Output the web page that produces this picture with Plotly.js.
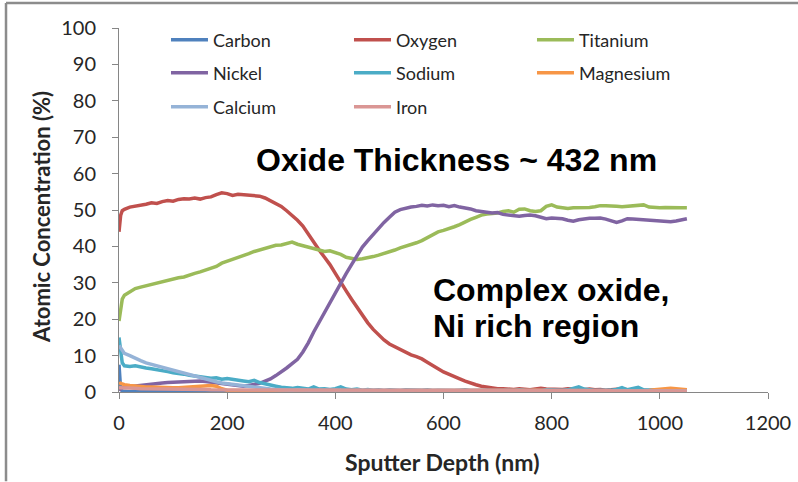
<!DOCTYPE html>
<html>
<head>
<meta charset="utf-8">
<script src="https://cdn.plot.ly/plotly-3.0.1.min.js"></script>
<style>
  html, body { margin: 0; padding: 0; background: #ffffff; }
  #chart { width: 798px; height: 482px; }
</style>
</head>
<body>
<div id="chart"></div>
<script>
// Depth profile: sputter depth (nm)
const depth = [
  0, 3, 6,
  10, 20, 30, 40, 50, 60, 70, 80, 90, 100,
  110, 120, 130, 140, 150, 160, 170, 180, 190, 200,
  210, 220, 230, 240, 250, 260, 270, 280, 290, 300,
  310, 320, 330, 340, 350, 360, 370, 380, 390, 400,
  410, 420, 430, 440, 450, 460, 470, 480, 490, 500,
  510, 520, 530, 540, 550, 560, 570, 580, 590, 600,
  610, 620, 630, 640, 650, 660, 670, 680, 690, 700,
  710, 720, 730, 740, 750, 760, 770, 780, 790, 800,
  810, 820, 830, 840, 850, 860, 870, 880, 890, 900,
  910, 920, 930, 940, 950, 960, 970, 980, 990, 1000,
  1010, 1020, 1030, 1040, 1050
];

// Atomic concentration (%) of each element at each depth
const carbon = [
  7.5, 0.8, 0.3,
  0.2, 0.1, 0.2, 0.1, 0.2, 0.1, 0.2, 0.1, 0.2, 0.1,
  0.2, 0.1, 0.2, 0.1, 0.2, 0.1, 0.2, 0.1, 0.1, 0.1,
  0.1, 0.1, 0.1, 0.1, 0.1, 0.1, 0.1, 0.1, 0.1, 0.1,
  0.1, 0.1, 0.1, 0.1, 0.1, 0.1, 0.1, 0.1, 0.1, 0.1,
  0.1, 0.1, 0.1, 0.1, 0.1, 0.1, 0.1, 0.1, 0.1, 0.1,
  0.1, 0.1, 0.1, 0.1, 0.1, 0.1, 0.1, 0.1, 0.1, 0.1,
  0.1, 0.1, 0.1, 0.1, 0.1, 0.1, 0.1, 0.1, 0.1, 0.1,
  0.1, 0.1, 0.1, 0.1, 0.1, 0.1, 0.1, 0.1, 0.1, 0.1,
  0.1, 0.1, 0.1, 0.1, 0.1, 0.1, 0.1, 0.1, 0.1, 0.1,
  0.1, 0.1, 0.1, 0.1, 0.1, 0.1, 0.1, 0.1, 0.1, 0.1,
  0.1, 0.1, 0.1, 0.1, 0.1
];
const oxygen = [
  44.0, 48.5, 49.8,
  50.2, 50.8, 51.0, 51.3, 51.6, 52.0, 51.8, 52.3, 52.6, 52.4,
  52.9, 53.1, 53.0, 53.3, 53.0, 53.4, 53.6, 54.2, 54.7, 54.5,
  54.0, 54.3, 54.2, 53.9, 54.0, 53.8, 53.3, 52.6, 51.8, 51.0,
  49.8, 48.6, 47.2, 45.6, 43.3, 41.0, 39.0, 37.0, 35.0, 32.6,
  30.0, 27.8, 25.5, 23.3, 21.2, 19.0, 17.2, 15.6, 14.3, 13.2,
  12.4, 11.8, 11.0, 10.2, 9.7, 9.1, 8.2, 7.2, 6.4, 5.5,
  4.8, 4.2, 3.6, 3.0, 2.4, 2.0, 1.6, 1.3, 1.1, 0.9,
  0.9, 0.8, 0.7, 0.9, 0.7, 0.6, 0.8, 1.0, 0.8, 0.7,
  0.6, 0.7, 0.9, 0.8, 0.7, 0.6, 0.8, 0.6, 0.7, 0.5,
  0.6, 0.8, 0.9, 0.6, 0.5, 0.6, 0.5, 0.4, 0.5, 0.4,
  0.5, 0.4, 0.5, 0.4, 0.4
];
const titanium = [
  19.5, 23.5, 25.5,
  26.6, 27.6, 28.4, 28.8, 29.2, 29.4, 30.0, 30.2, 30.6, 31.0,
  31.4, 31.6, 32.2, 32.6, 33.0, 33.5, 34.0, 34.5, 35.4, 35.9,
  36.4, 36.8, 37.4, 38.0, 38.6, 39.0, 39.6, 40.0, 40.3, 40.4,
  40.9, 41.2, 40.6, 40.2, 39.8, 39.2, 38.8, 38.6, 38.8, 38.4,
  37.8, 37.0, 36.6, 36.4, 36.6, 36.8, 37.2, 37.6, 38.0, 38.4,
  39.0, 39.6, 40.0, 40.6, 41.0, 41.6, 42.4, 43.2, 44.0, 44.4,
  44.8, 45.4, 46.0, 46.8, 47.4, 48.0, 48.6, 48.9, 49.0, 49.2,
  49.6, 49.8, 49.4, 50.2, 50.3, 49.8, 49.6, 49.8, 51.0, 51.4,
  50.8, 50.6, 50.4, 50.6, 50.6, 50.8, 50.7, 50.9, 51.2, 51.2,
  51.0, 51.0, 50.9, 51.0, 51.1, 51.4, 51.4, 50.8, 50.6, 50.6,
  50.7, 50.6, 50.6, 50.6, 50.6
];
const nickel = [
  0.5, 1.0, 1.2,
  1.3, 1.5, 1.7, 1.8, 2.0, 2.1, 2.3, 2.5, 2.6, 2.7,
  2.8, 2.9, 2.8, 3.1, 3.0, 2.9, 2.7, 2.5, 2.3, 2.0,
  1.8, 1.7, 1.6, 1.8, 2.1, 2.4, 3.0, 3.6, 4.5, 5.5,
  6.6, 7.8, 9.0, 11.0, 13.5, 16.5, 19.2, 22.0, 24.8, 27.5,
  29.8, 32.5, 35.0, 37.5, 39.8, 41.6, 43.3, 45.0, 46.6, 48.0,
  49.4, 50.1, 50.5, 50.8, 51.0, 51.3, 51.1, 51.4, 51.2, 51.3,
  50.9, 51.2, 50.8, 50.6, 50.3, 49.8, 49.5, 49.4, 49.2, 49.3,
  48.8, 48.7, 48.6, 48.3, 48.5, 48.6, 48.4, 48.1, 47.6, 47.8,
  47.8, 47.6, 47.2, 46.9, 47.3, 47.6, 47.7, 47.7, 47.8, 47.5,
  47.0, 46.6, 47.0, 47.6, 47.5, 47.4, 47.2, 47.3, 47.1, 46.9,
  46.8, 46.8, 47.0, 47.4, 47.6
];
const sodium = [
  15.0, 11.0, 8.0,
  7.2, 7.0, 7.2, 6.8, 6.6, 6.4, 6.2, 5.8, 5.6, 5.3,
  5.2, 4.9, 4.6, 4.4, 4.3, 4.0, 3.8, 3.9, 3.5, 3.7,
  3.4, 3.3, 3.0, 2.8, 3.2, 2.6, 2.2, 2.0, 1.6, 1.3,
  1.1, 1.0, 1.2, 0.9, 0.8, 1.4, 0.8, 0.9, 0.7, 0.9,
  1.4, 0.8, 0.6, 0.8, 0.5, 0.7, 0.5, 0.6, 0.4, 0.6,
  0.5, 0.4, 0.6, 0.5, 0.4, 0.5, 0.6, 0.4, 0.5, 0.4,
  0.5, 0.4, 0.5, 0.6, 0.4, 0.5, 0.4, 0.5, 0.4, 0.5,
  0.4, 0.5, 0.4, 0.6, 0.5, 0.4, 0.5, 0.4, 0.6, 0.5,
  0.4, 0.5, 0.6, 0.9, 1.4, 0.8, 0.5, 0.4, 0.5, 0.4,
  0.5, 0.7, 1.2, 0.6, 0.9, 1.3, 0.6, 0.5, 0.4, 0.5,
  0.4, 0.5, 0.4, 0.5, 0.6
];
const magnesium = [
  2.2, 2.4, 2.2,
  2.0, 1.8, 1.6, 1.5, 1.4, 1.4, 1.3, 1.3, 1.2, 1.2,
  1.2, 1.3, 1.4, 1.5, 1.6, 1.7, 1.8, 1.6, 0.9, 0.5,
  0.4, 0.3, 0.4, 0.3, 0.3, 0.4, 0.3, 0.3, 0.3, 0.3,
  0.3, 0.2, 0.3, 0.2, 0.3, 0.2, 0.3, 0.2, 0.3, 0.2,
  0.3, 0.2, 0.3, 0.2, 0.3, 0.2, 0.3, 0.2, 0.3, 0.2,
  0.3, 0.2, 0.3, 0.2, 0.3, 0.2, 0.3, 0.2, 0.3, 0.2,
  0.3, 0.2, 0.3, 0.2, 0.3, 0.2, 0.3, 0.2, 0.3, 0.2,
  0.3, 0.2, 0.3, 0.2, 0.3, 0.4, 0.5, 0.4, 0.3, 0.2,
  0.3, 0.2, 0.3, 0.2, 0.3, 0.2, 0.3, 0.2, 0.3, 0.2,
  0.3, 0.2, 0.3, 0.2, 0.3, 0.3, 0.3, 0.4, 0.6, 0.8,
  0.9, 1.0, 0.9, 0.7, 0.6
];
const calcium = [
  12.8, 12.0, 11.2,
  10.6, 10.0, 9.2, 8.6, 8.0, 7.6, 7.0, 6.6, 6.2, 5.8,
  5.4, 5.0, 4.7, 4.3, 3.9, 3.5, 3.1, 2.8, 2.5, 2.3,
  2.0, 1.8, 1.6, 1.4, 1.2, 1.0, 0.9, 0.8, 0.7, 0.6,
  0.6, 0.5, 0.6, 0.5, 0.5, 0.4, 0.5, 0.4, 0.4, 0.5,
  0.4, 0.4, 0.3, 0.4, 0.4, 0.3, 0.4, 0.3, 0.3, 0.4,
  0.3, 0.3, 0.4, 0.3, 0.3, 0.3, 0.4, 0.3, 0.3, 0.3,
  0.3, 0.4, 0.3, 0.3, 0.3, 0.4, 0.3, 0.3, 0.3, 0.3,
  0.4, 0.3, 0.3, 0.3, 0.3, 0.4, 0.3, 0.3, 0.3, 0.3,
  0.3, 0.4, 0.3, 0.3, 0.3, 0.3, 0.4, 0.3, 0.3, 0.3,
  0.3, 0.3, 0.4, 0.3, 0.3, 0.3, 0.3, 0.4, 0.3, 0.3,
  0.3, 0.3, 0.3, 0.4, 0.3
];
const iron = [
  1.2, 1.2, 1.1,
  1.1, 1.0, 1.0, 0.9, 0.9, 0.9, 0.8, 0.8, 0.8, 0.8,
  0.8, 0.7, 0.7, 0.7, 0.7, 0.7, 0.6, 0.6, 0.6, 0.5,
  0.5, 0.5, 0.4, 0.5, 0.4, 0.5, 0.4, 0.4, 0.5, 0.4,
  0.4, 0.4, 0.5, 0.4, 0.4, 0.4, 0.4, 0.5, 0.4, 0.4,
  0.4, 0.4, 0.4, 0.5, 0.4, 0.4, 0.4, 0.4, 0.4, 0.4,
  0.4, 0.5, 0.4, 0.4, 0.4, 0.4, 0.4, 0.4, 0.5, 0.4,
  0.4, 0.4, 0.4, 0.4, 0.4, 0.5, 0.4, 0.4, 0.4, 0.4,
  0.4, 0.4, 0.4, 0.4, 0.4, 0.4, 0.4, 0.4, 0.4, 0.4,
  0.4, 0.4, 0.4, 0.4, 0.4, 0.4, 0.4, 0.4, 0.4, 0.4,
  0.3, 0.3, 0.3, 0.3, 0.3, 0.3, 0.3, 0.3, 0.3, 0.3,
  0.3, 0.3, 0.3, 0.3, 0.3
];

const elementNames = ['Carbon', 'Oxygen', 'Titanium', 'Nickel', 'Sodium', 'Magnesium', 'Calcium', 'Iron'];
const elementValues = [carbon, oxygen, titanium, nickel, sodium, magnesium, calcium, iron];
const elementColors = ['#4F81BD', '#C0504D', '#9BBB59', '#8064A2', '#4BACC6', '#F79646', '#95B3D7', '#DA9694'];
// three legend rows of three entries each
const legendRows = ['legend', 'legend', 'legend', 'legend2', 'legend2', 'legend2', 'legend3', 'legend3'];

const yTicks = [0, 10, 20, 30, 40, 50, 60, 70, 80, 90, 100];
const xTicks = [0, 200, 400, 600, 800, 1000, 1200];

const traces = elementNames.map((name, i) => ({
  type: 'scatter',
  mode: 'lines',
  name: name,
  x: depth,
  y: elementValues[i],
  line: { color: elementColors[i], width: 3.5 },
  legend: legendRows[i],
  hoverinfo: 'skip'
}));

const labelFont = { family: 'Lato, Open Sans, sans-serif', size: 20, color: '#262626' };
const noteFont = { family: 'Liberation Sans, Arial, sans-serif', size: 32, color: '#000000', weight: 700 };
const axisGrey = '#868686';

function legendRow(y) {
  return {
    orientation: 'h',
    x: 0.0724, xanchor: 'left',
    y: y, yanchor: 'middle',
    bgcolor: 'rgba(0,0,0,0)',
    borderwidth: 0,
    itemwidth: 37,
    entrywidth: 131,
    entrywidthmode: 'pixels',
    font: { family: 'Lato, Open Sans, sans-serif', size: 18, color: '#262626' },
    itemclick: false,
    itemdoubleclick: false
  };
}

const layout = {
  width: 798,
  height: 482,
  margin: { l: 119, r: 30, t: 28, b: 90 },
  paper_bgcolor: '#ffffff',
  plot_bgcolor: '#ffffff',
  showlegend: true,
  legend: legendRow(0.967),
  legend2: legendRow(0.876),
  legend3: legendRow(0.783),
  xaxis: {
    range: [0, 1200],
    tickvals: xTicks,
    ticktext: xTicks.map(String),
    showgrid: false,
    zeroline: false,
    showline: true,
    linecolor: axisGrey,
    linewidth: 1,
    ticks: 'outside',
    ticklen: 6,
    tickcolor: axisGrey,
    ticklabelstandoff: 7,
    tickfont: labelFont,
    fixedrange: true
  },
  yaxis: {
    range: [0, 100],
    tickvals: yTicks,
    ticktext: yTicks.map(String),
    showgrid: false,
    zeroline: false,
    showline: true,
    linecolor: axisGrey,
    linewidth: 1,
    ticks: 'outside',
    ticklen: 6,
    tickcolor: axisGrey,
    ticklabelstandoff: 12,
    tickfont: labelFont,
    fixedrange: true
  },
  annotations: [
    {
      text: 'Atomic Concentration (%)',
      xref: 'paper', yref: 'paper',
      x: -0.1186, y: 0.481,
      xanchor: 'center', yanchor: 'middle',
      textangle: -90, showarrow: false,
      font: { family: 'Lato, Open Sans, sans-serif', size: 22, color: '#262626', weight: 700 }
    },
    {
      text: 'Sputter Depth (nm)',
      xref: 'paper', yref: 'paper',
      x: 0.498, y: -0.192,
      xanchor: 'center', yanchor: 'middle',
      showarrow: false,
      font: { family: 'Lato, Open Sans, sans-serif', size: 23, color: '#262626', weight: 700 }
    },
    {
      text: 'Oxide Thickness ~ 432 nm',
      xref: 'paper', yref: 'paper',
      x: 0.520, y: 0.637,
      xanchor: 'center', yanchor: 'middle',
      showarrow: false,
      font: noteFont
    },
    {
      text: 'Complex oxide,',
      xref: 'paper', yref: 'paper',
      x: 0.481, y: 0.280,
      xanchor: 'left', yanchor: 'middle',
      showarrow: false,
      font: noteFont
    },
    {
      text: 'Ni rich region',
      xref: 'paper', yref: 'paper',
      x: 0.481, y: 0.181,
      xanchor: 'left', yanchor: 'middle',
      showarrow: false,
      font: noteFont
    }
  ],
  shapes: [
    // outer frame of the chart area (left and top edges)
    { type: 'line', xref: 'paper', yref: 'paper', x0: -0.1741, x1: -0.1741, y0: -0.245, y1: 1.0687,
      line: { color: '#8c8c8c', width: 2.5 } },
    { type: 'line', xref: 'paper', yref: 'paper', x0: -0.1741, x1: 1.05, y0: 1.0687, y1: 1.0687,
      line: { color: '#8c8c8c', width: 2.5 } }
  ]
};

Plotly.newPlot('chart', traces, layout, { displayModeBar: false, staticPlot: true });
</script>
</body>
</html>
